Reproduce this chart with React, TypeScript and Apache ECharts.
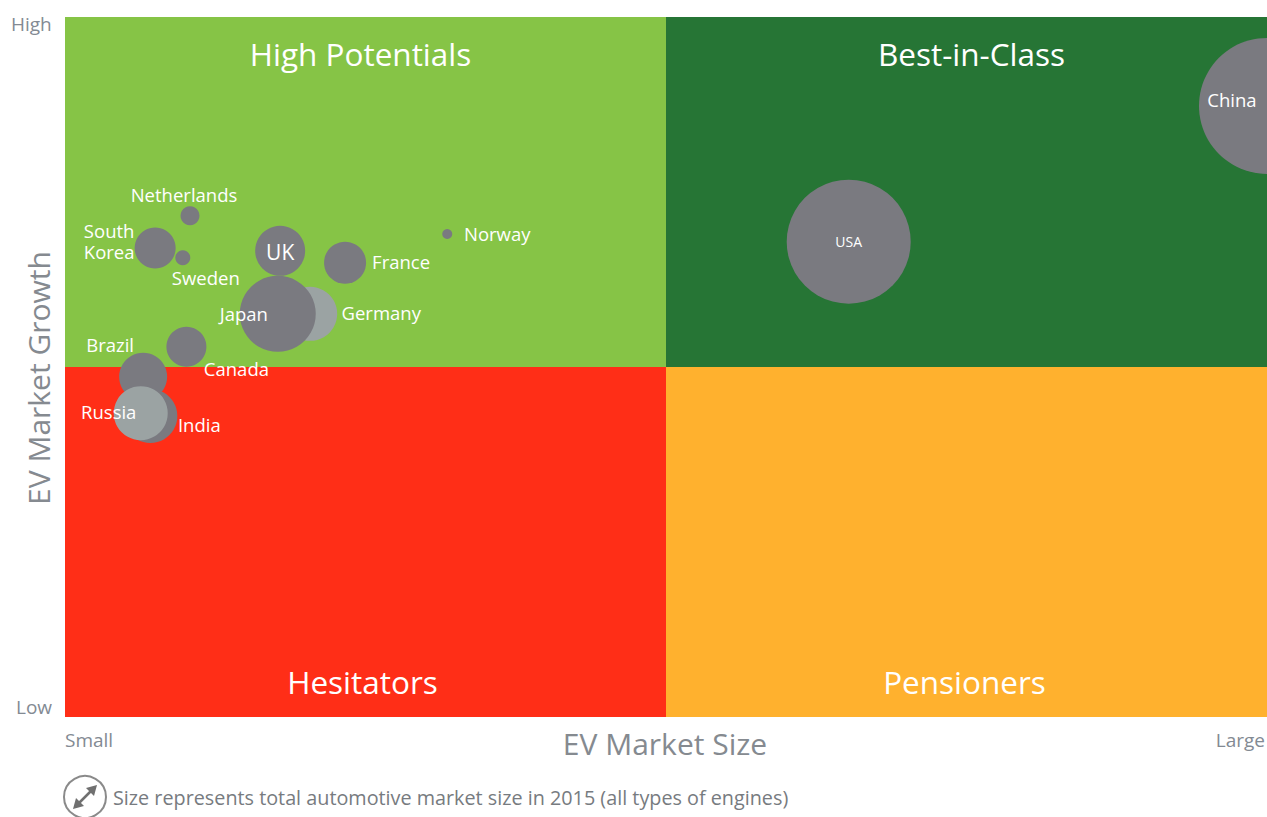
import React, { useEffect, useRef } from "react";
import * as echarts from "echarts";

// ---- data ----
const countries = ["China", "USA", "Germany", "Japan", "UK", "France", "Norway", "Netherlands", "South Korea", "Sweden", "Canada", "Brazil", "India", "Russia"];
const marketSize = [100, 65.2, 20.4, 17.7, 17.9, 23.3, 31.8, 10.4, 7.5, 9.8, 10.1, 6.5, 7.1, 6.3];
const marketGrowth = [87.3, 67.9, 57.6, 57.6, 66.6, 64.9, 69.0, 71.6, 67.0, 65.6, 52.9, 48.6, 43.0, 43.4];
const totalMarket = [136, 124, 54, 76, 50, 42, 10, 19, 41, 15, 40, 48, 54, 54];
const quadrantNames = ["High Potentials", "Best-in-Class", "Hesitators", "Pensioners"];
const yTickLabels = ["Low", "High"];
const xTickLabels = ["Small", "Large"];

// ---- styling (not data) ----
const lightBubbles = new Set(["Germany", "Russia"]);
const labelOffset: Record<string, [number, number]> = {
  China: [-35, -6],
  USA: [0, 0],
  Germany: [71, -1],
  Japan: [-34, 0],
  UK: [0, 1],
  France: [56, -1],
  Norway: [50, -1],
  Netherlands: [-6, -21],
  "South Korea": [-46, -7],
  Sweden: [23, 20],
  Canada: [50, 22],
  Brazil: [-33, -32],
  India: [49, 8],
  Russia: [-32, -2],
};
const labelFont: Record<string, number> = { USA: 14, UK: 21 };
const titleOffset: [number, number][] = [[-5, 0], [5, 0], [-3, 0], [-2, 0]];

const FONT = "'Open Sans', Lato, sans-serif";

export default function App() {
  const ref = useRef<HTMLDivElement>(null);
  useEffect(() => {
    if (!ref.current) return;
    const chart = echarts.init(ref.current, undefined, { renderer: "svg" });
    const data = countries.map((name, i) => ({
      name,
      value: [marketSize[i], marketGrowth[i], totalMarket[i]],
      itemStyle: { color: lightBubbles.has(name) ? "#9ba3a3" : "#7a7a80" },
      label: {
        show: true,
        position: "inside" as const,
        offset: labelOffset[name],
        formatter: name === "South Korea" ? "South\nKorea" : name,
        fontSize: labelFont[name] || 18.5,
        lineHeight: 21,
        color: "#ffffff",
        fontFamily: FONT,
      },
    }));
    const quadTitle = (pos: string, i: number) => ({
      show: true,
      position: pos,
      distance: 20,
      offset: titleOffset[i],
      color: "#ffffff",
      fontSize: 31.5,
      fontFamily: FONT,
    });
    const option: any = {
      animation: false,
      grid: { left: 65, top: 17, right: 0, bottom: 100 },
      xAxis: {
        type: "value", min: 0, max: 100,
        axisLine: { show: false }, axisTick: { show: false }, axisLabel: { show: false }, splitLine: { show: false },
      },
      yAxis: {
        type: "value", min: 0, max: 100,
        axisLine: { show: false }, axisTick: { show: false }, axisLabel: { show: false }, splitLine: { show: false },
      },
      series: [
        {
          type: "scatter",
          silent: true,
          data: [],
          z: 1,
          markArea: {
            silent: true,
            data: [
              [{ name: quadrantNames[0], coord: [0, 50], itemStyle: { color: "#86c446" }, label: quadTitle("insideTop", 0) }, { coord: [50, 100] }],
              [{ name: quadrantNames[1], coord: [50, 50], itemStyle: { color: "#267535" }, label: quadTitle("insideTop", 1) }, { coord: [100, 100] }],
              [{ name: quadrantNames[2], coord: [0, 0], itemStyle: { color: "#ff2e17" }, label: quadTitle("insideBottom", 2) }, { coord: [50, 50] }],
              [{ name: quadrantNames[3], coord: [50, 0], itemStyle: { color: "#ffb12e" }, label: quadTitle("insideBottom", 3) }, { coord: [100, 50] }],
            ],
          },
        },
        {
          type: "scatter",
          z: 3,
          data,
          symbolSize: (v: number[]) => v[2],
          itemStyle: { opacity: 1 },
        },
      ],
      graphic: [
        { type: "text", left: 11, top: 14, style: { text: yTickLabels[1], fill: "#838a93", fontSize: 19, fontFamily: FONT } },
        { type: "text", left: 16, top: 697, style: { text: yTickLabels[0], fill: "#838a93", fontSize: 19, fontFamily: FONT } },
        { type: "text", left: 65, top: 730, style: { text: xTickLabels[0], fill: "#838a93", fontSize: 19, fontFamily: FONT } },
        { type: "text", right: 2, top: 730, style: { text: xTickLabels[1], fill: "#838a93", fontSize: 19, fontFamily: FONT } },
        { type: "text", x: 665, y: 743, style: { text: "EV Market Size", fill: "#858a90", fontSize: 30, fontFamily: FONT, align: "center", verticalAlign: "middle" } },
        { type: "text", x: 38, y: 378, rotation: Math.PI / 2, style: { text: "EV Market Growth", fill: "#858a90", fontSize: 30, fontFamily: FONT, align: "center", verticalAlign: "middle" } },
        { type: "circle", shape: { cx: 85, cy: 797, r: 21 }, style: { fill: "none", stroke: "#8a8a8a", lineWidth: 2 } },
        { type: "line", shape: { x1: 76, y1: 806, x2: 94, y2: 788 }, style: { stroke: "#707070", lineWidth: 2.5 } },
        { type: "polygon", shape: { points: [[97, 785], [86, 788], [94, 796]] }, style: { fill: "#707070" } },
        { type: "polygon", shape: { points: [[73, 809], [84, 806], [76, 798]] }, style: { fill: "#707070" } },
        { type: "text", x: 113, y: 797, style: { text: "Size represents total automotive market size in 2015 (all types of engines)", fill: "#777b80", fontSize: 19.8, fontFamily: FONT, verticalAlign: "middle" } },
      ],
    };
    chart.setOption(option);
    return () => chart.dispose();
  }, []);
  return <div ref={ref} style={{ position: "fixed", left: 0, top: 0, width: 1267, height: 817, background: "#ffffff" }} />;
}
